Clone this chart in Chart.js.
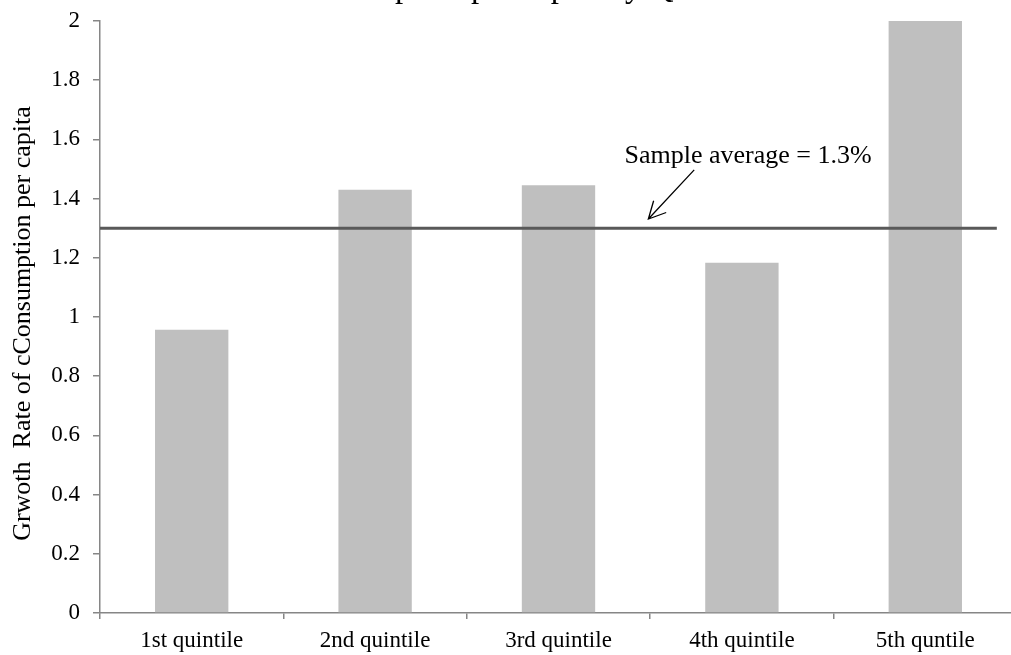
<!DOCTYPE html>
<html>
<head>
<meta charset="utf-8">
<script src="https://cdn.jsdelivr.net/npm/chart.js@4/dist/chart.umd.min.js"></script>
<style>
  html, body { margin: 0; padding: 0; background: #ffffff; overflow: hidden; }
  #wrap { position: absolute; left: 0; top: 0; width: 1030px; height: 655px; }
</style>
</head>
<body>
<div id="wrap"><canvas id="chart" width="1030" height="655"></canvas></div>
<script>
// Quintile groups and their consumption growth rates (%)
const categories = ['1st quintile', '2nd quintile', '3rd quintile', '4th quintile', '5th quntile'];
const growthRates = [0.957, 1.43, 1.445, 1.183, 2.0];

// Sample-wide average growth rate (%)
const sampleAverage = 1.3;
const averageLabel = 'Sample average = 1.3%';

// Value axis ticks
const yTickValues = [0, 0.2, 0.4, 0.6, 0.8, 1, 1.2, 1.4, 1.6, 1.8, 2];

const chartTitle = 'Growth Rate of Consumption per capita by Quintile';
const yAxisTitle = 'Grwoth  Rate of cConsumption per capita  ';

const FONT = "'Liberation Serif', 'Times New Roman', serif";
const AXIS_GREY = '#868686';

// Average line, its callout text and arrow, plus the title above the plot
const overlayPlugin = {
  id: 'overlay',
  afterDatasetsDraw(chart) {
    const { ctx, chartArea, scales } = chart;
    const x = scales.x, y = scales.y;
    ctx.save();

    // horizontal sample-average line
    const yAvg = y.getPixelForValue(sampleAverage);
    ctx.strokeStyle = '#595959';
    ctx.lineWidth = 3;
    ctx.beginPath();
    ctx.moveTo(chartArea.left, yAvg);
    ctx.lineTo(x.getPixelForValue(4.39), yAvg);
    ctx.stroke();

    // callout text
    ctx.fillStyle = '#000';
    ctx.font = '26px ' + FONT;
    ctx.textAlign = 'left';
    ctx.textBaseline = 'alphabetic';
    ctx.fillText(averageLabel, x.getPixelForValue(2.36), y.getPixelForValue(1.52));

    // arrow pointing at the average line
    const tx = x.getPixelForValue(2.74), ty = y.getPixelForValue(1.497);
    const hx = x.getPixelForValue(2.49), hy = y.getPixelForValue(1.331);
    ctx.strokeStyle = '#000';
    ctx.lineWidth = 1.3;
    ctx.beginPath();
    ctx.moveTo(tx, ty);
    ctx.lineTo(hx, hy);
    const ang = Math.atan2(ty - hy, tx - hx);
    const headLen = 19, spread = 0.47;
    ctx.moveTo(hx + headLen * Math.cos(ang - spread), hy + headLen * Math.sin(ang - spread));
    ctx.lineTo(hx, hy);
    ctx.lineTo(hx + headLen * Math.cos(ang + spread), hy + headLen * Math.sin(ang + spread));
    ctx.stroke();

    // chart title, sitting mostly above the top edge
    ctx.font = '33px ' + FONT;
    const lead = ctx.measureText('Growth Rate of Consum').width;
    ctx.fillText(chartTitle, 395 - lead, -3);

    ctx.restore();
  }
};

new Chart(document.getElementById('chart'), {
  type: 'bar',
  data: {
    labels: categories,
    datasets: [{
      data: growthRates,
      backgroundColor: '#bfbfbf',
      borderWidth: 0,
      categoryPercentage: 1.0,
      barPercentage: 0.4
    }]
  },
  options: {
    responsive: false,
    devicePixelRatio: 1,
    animation: false,
    layout: { padding: { left: 0, top: 21, right: 13, bottom: 0 } },
    plugins: {
      legend: { display: false },
      tooltip: { enabled: false },
      title: { display: false }
    },
    scales: {
      x: {
        type: 'category',
        offset: true,
        grid: {
          display: true,
          offset: true,
          drawOnChartArea: false,
          drawTicks: true,
          tickLength: 6,
          color: AXIS_GREY,
          lineWidth: 1.5
        },
        border: { display: true, color: AXIS_GREY, width: 1.5 },
        ticks: {
          color: '#000',
          font: { family: FONT, size: 23 },
          padding: 8,
          maxRotation: 0,
          autoSkip: false
        },
        afterFit(scale) { scale.height = 42; }
      },
      y: {
        type: 'linear',
        min: 0,
        max: 2,
        afterBuildTicks(scale) {
          scale.ticks = yTickValues.map(v => ({ value: v }));
        },
        grid: {
          display: true,
          drawOnChartArea: false,
          drawTicks: true,
          tickLength: 7,
          color: AXIS_GREY,
          lineWidth: 1.5
        },
        border: { display: true, color: AXIS_GREY, width: 1.5 },
        ticks: {
          color: '#000',
          font: { family: FONT, size: 23 },
          padding: 13,
          callback: v => String(Number(v.toFixed(1)))
        },
        title: {
          display: true,
          text: yAxisTitle,
          color: '#000',
          font: { family: FONT, size: 26 },
          padding: { top: 8, bottom: 0 }
        },
        afterFit(scale) {
          scale.width = 100;
          scale.paddingTop = 0;
          scale.paddingBottom = 0;
        }
      }
    }
  },
  plugins: [overlayPlugin]
});
</script>
</body>
</html>
